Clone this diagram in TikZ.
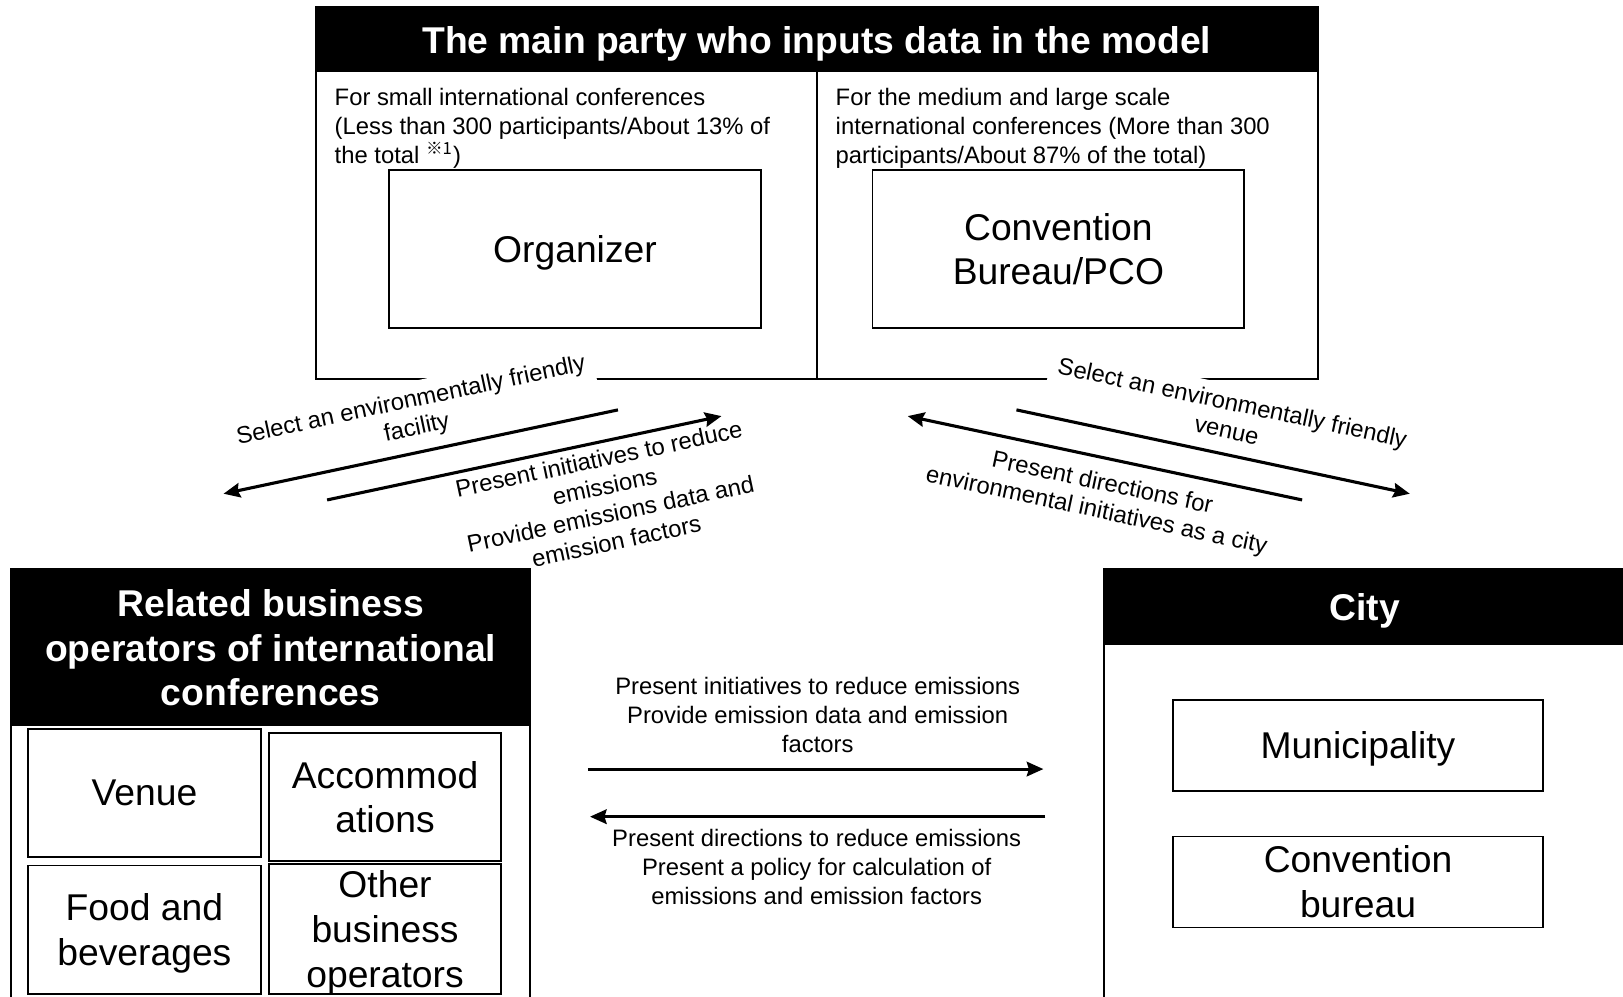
\documentclass[tikz,border=0pt]{standalone}
\usepackage{fontspec}
\setmainfont{Liberation Sans}
\newfontfamily\refmark{Noto Sans CJK JP}
\usetikzlibrary{arrows.meta}

\begin{document}
\begin{tikzpicture}
[
    x=0.5pt, y=-0.5pt,
    head/.style={fill=black, text=white, font=\fontsize{18}{21.5}\selectfont\bfseries, align=center, inner sep=0pt},
    unit/.style={draw, line width=0.8pt, font=\fontsize{18}{21.5}\selectfont, align=center, inner sep=0pt},
    low/.style={text depth=0pt},
    note/.style={font=\fontsize{11.5}{14}\selectfont, align=center, inner sep=1pt},
    tilted/.style={note, fill=white, inner sep=4pt, font=\fontsize{11.5}{13.5}\selectfont},
    flow/.style={line width=1.5pt, -{Stealth[length=8pt, width=7pt, inset=1pt]}},
]
\useasboundingbox (0,0) rectangle (1568,963);
\clip (0,0) rectangle (1568,963);

% main party
\draw[line width=1pt] (305,7) rectangle (1273,366);
\draw[line width=1pt] (789,70) -- (789,366);
\node[head, low, minimum width=484pt, minimum height=31.5pt] (party) at (789,38.5) {The main party who inputs data in the model};
\node[note, anchor=north west, align=left] (smallconf) at (321,83) {For small international conferences\\(Less than 300 participants/About 13\% of\\the total \textsuperscript{\refmark ※1})};
\node[note, anchor=north west, align=left] (largeconf) at (805,83) {For the medium and large scale\\international conferences (More than 300\\participants/About 87\% of the total)};
\node[unit, low, minimum width=179.5pt, minimum height=76.5pt] (organizer) at (555.5,240.5) {Organizer};
\node[unit, minimum width=179.5pt, minimum height=76.5pt] (pco) at (1022.5,240.5) {Convention\\Bureau/PCO};

% labels on the slanted arrows
\node[tilted, rotate=12] (selectfac) at (400,401) {Select an environmentally friendly\\facility};
\node[tilted, rotate=12] (initleft) at (587,483) {Present initiatives to reduce\\emissions\\Provide emissions data and\\emission factors};
\node[tilted, rotate=-12] (selectven) at (1188,402) {Select an environmentally friendly\\venue};
\node[tilted, rotate=-12] (dirleft) at (1062,481) {Present directions for\\environmental initiatives as a city};

\coordinate (a1) at (597,396); \coordinate (a2) at (216,477);
\coordinate (b1) at (316,483); \coordinate (b2) at (697,402);
\coordinate (c1) at (982,396); \coordinate (c2) at (1362,477);
\coordinate (d1) at (1258,483); \coordinate (d2) at (877,402);
\draw[flow] (a1) -- (a2);
\draw[flow] (b1) -- (b2);
\draw[flow] (c1) -- (c2);
\draw[flow] (d1) -- (d2);

% business operators
\draw[line width=1pt] (11,550) rectangle (512,990);
\node[head, minimum width=250.5pt, minimum height=75pt] (bizhead) at (261.5,626) {Related business\\operators of international\\conferences};
\node[unit, low, minimum width=112.5pt, minimum height=62pt] (venue) at (139.5,766) {Venue};
\node[unit, minimum width=112pt, minimum height=62pt] (accom) at (372,770) {Accommod\\ations};
\node[unit, low, minimum width=112.5pt, minimum height=62pt] (food) at (139.5,898) {Food and\\beverages};
\node[unit, low, minimum width=112pt, minimum height=62.5pt] (other) at (372,897.5) {Other\\business\\operators};

% city
\draw[line width=1pt] (1067,550) rectangle (1570,990);
\node[head, low, minimum width=251.5pt, minimum height=36.5pt] (cityhead) at (1318.5,586.5) {City};
\node[unit, low, minimum width=179pt, minimum height=44pt] (muni) at (1312,720) {Municipality};
\node[unit, minimum width=179pt, minimum height=44pt] (bureau) at (1312,852) {Convention\\bureau};

% between operators and city
\node[note] (tocity) at (790,691) {Present initiatives to reduce emissions\\Provide emission data and emission\\factors};
\node[note] (fromcity) at (789,838) {Present directions to reduce emissions\\Present a policy for calculation of\\emissions and emission factors};
\coordinate (e1) at (568,743); \coordinate (e2) at (1008,743);
\coordinate (f1) at (1010,789); \coordinate (f2) at (570,789);
\draw[flow] (e1) -- (e2);
\draw[flow] (f1) -- (f2);
\end{tikzpicture}
\end{document}
